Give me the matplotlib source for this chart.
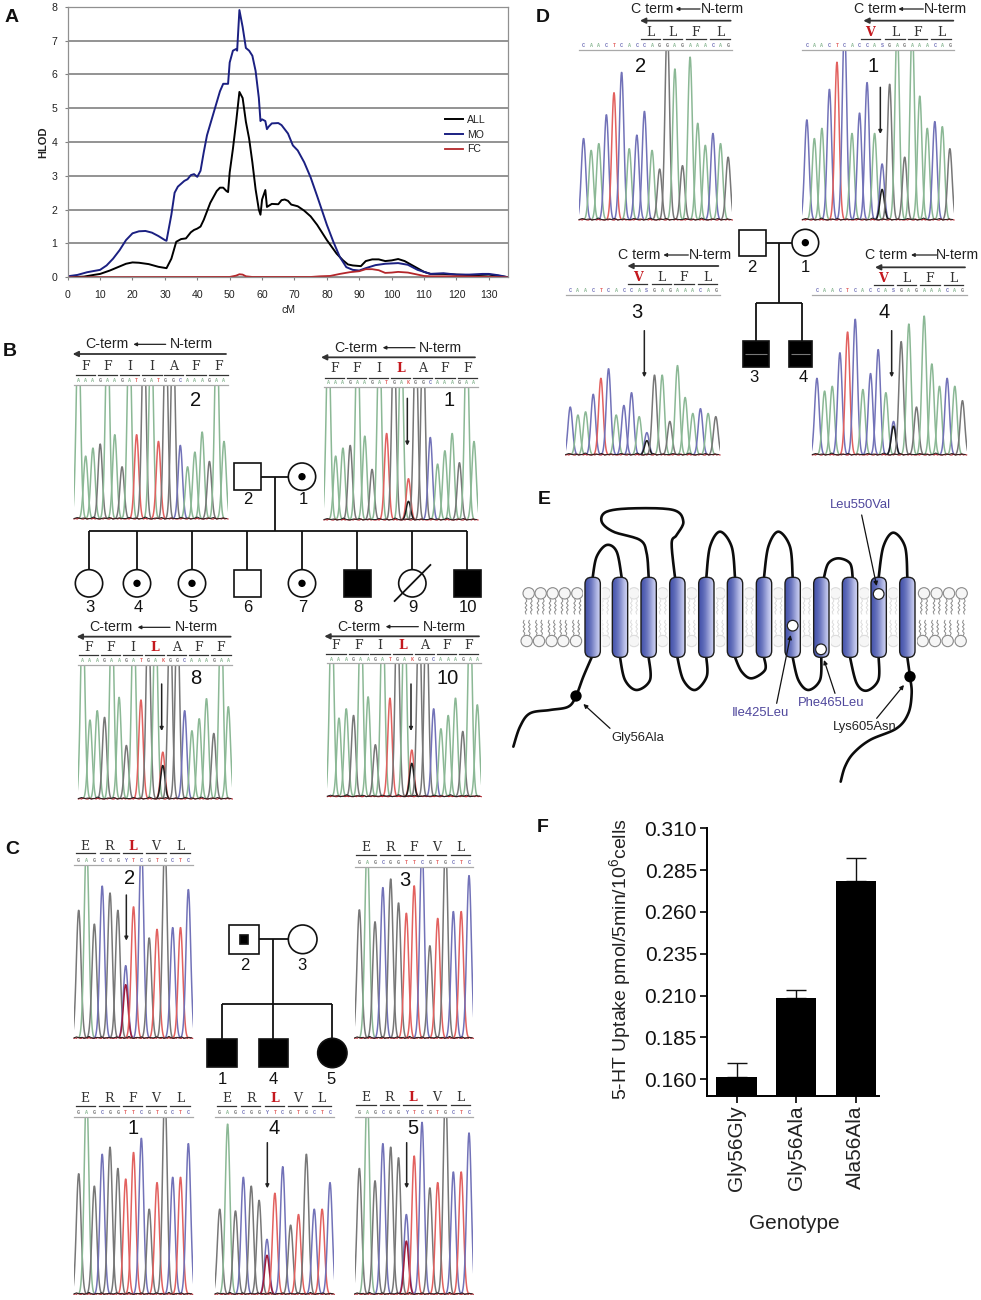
import numpy as np
import matplotlib
matplotlib.use("Agg")
import matplotlib.pyplot as plt
from matplotlib.patches import Circle, Rectangle, FancyBboxPatch

plt.rcParams['font.family'] = ['Liberation Sans', 'DejaVu Sans']
plt.rcParams['mathtext.fontset'] = 'custom'
plt.rcParams['mathtext.rm'] = 'Liberation Sans'
plt.rcParams['mathtext.default'] = 'regular'

W, H = 981, 1300

# panel A: linkage curves
mo_cm = [0, 3, 6, 10, 12, 14, 16, 18, 20, 22, 24, 26, 28, 30, 30.5, 32, 33, 34, 36, 37, 38, 39, 40, 41, 42, 43, 45, 47,
         48, 49.5, 50, 51, 52, 52.3, 53, 54, 55, 56, 57, 58, 59, 59.5, 60, 61, 61.5, 62, 63, 65, 66, 68, 69.5, 71, 73,
         75, 77, 80, 82, 84, 86, 88, 90, 92, 95, 98, 102, 105, 108, 112, 116, 120, 124, 128, 130, 133, 136]
mo_hlod = [0.03, 0.07, 0.15, 0.22, 0.35, 0.55, 0.8, 1.1, 1.3, 1.36, 1.37, 1.32, 1.22, 1.1, 1.08, 1.85, 2.5, 2.68, 2.85,
           2.9, 3.02, 3.05, 2.97, 3.15, 3.7, 4.2, 4.85, 5.5, 5.72, 5.72, 6.35, 6.7, 6.75, 6.7, 7.9, 7.4, 6.78, 6.7,
           6.55, 6.1, 5.3, 4.62, 4.67, 4.62, 4.38, 4.45, 4.55, 4.56, 4.5, 4.25, 3.9, 3.75, 3.4, 2.95, 2.4, 1.55, 1.05,
           0.6, 0.3, 0.22, 0.2, 0.27, 0.36, 0.4, 0.42, 0.37, 0.22, 0.1, 0.12, 0.08, 0.08, 0.1, 0.1, 0.06, 0.0]
all_cm = [0, 5, 8, 10, 13, 16, 18, 20, 22, 25, 28, 30.5, 32, 33.5, 35, 36.5, 38, 39, 40, 41, 42, 44, 46, 47, 48, 49,
          49.5, 50, 51, 52, 53, 54, 55, 56, 57, 58, 59, 59.5, 60, 61, 61.5, 63, 65, 66, 67, 68, 69, 71, 73, 75, 77,
          80, 83, 85, 86.5, 88, 90.5, 92, 94, 96, 98, 100, 102, 104, 107, 110, 112, 116, 120, 125, 130, 134, 136]
all_hlod = [0.0, 0.02, 0.07, 0.1, 0.2, 0.32, 0.4, 0.44, 0.43, 0.39, 0.31, 0.27, 0.55, 1.05, 1.13, 1.15, 1.33, 1.4, 1.44,
            1.5, 1.7, 2.2, 2.55, 2.65, 2.65, 2.55, 2.52, 3.1, 3.8, 4.6, 5.48, 5.3, 4.6, 4.1, 3.4, 2.6, 2.0, 1.85, 2.3,
            2.58, 2.08, 2.17, 2.16, 2.28, 2.3, 2.26, 2.15, 2.1, 1.97, 1.8, 1.55, 1.1, 0.7, 0.5, 0.38, 0.35, 0.33, 0.48,
            0.53, 0.53, 0.48, 0.5, 0.54, 0.48, 0.32, 0.16, 0.1, 0.1, 0.08, 0.06, 0.08, 0.03, 0.0]
fc_cm = [0, 50, 52, 53, 54, 55, 57, 75, 78, 81, 84, 87, 90, 92, 94, 96, 98, 100, 102, 105, 108, 110, 112, 120, 136]
fc_hlod = [0.0, 0.01, 0.05, 0.09, 0.08, 0.03, 0.01, 0.01, 0.03, 0.04, 0.1, 0.15, 0.18, 0.24, 0.24, 0.21, 0.13, 0.14,
           0.16, 0.14, 0.08, 0.04, 0.03, 0.03, 0.0]

# panel F: uptake bars
genotypes = ['Gly56Gly', 'Gly56Ala', 'Ala56Ala']
uptake = [0.1616, 0.2088, 0.2785]
uptake_err = [0.0080, 0.0046, 0.0140]
uptake_ticks = [0.160, 0.185, 0.210, 0.235, 0.260, 0.285, 0.310]

# chromatogram sequences and peak heights (top of window = 100)
seq_b = 'AAAGAAGATGATGGCAAAGAA'
peaks_b2 = [100, 47, 53, 56, 100, 63, 39, 100, 63, 100, 100, 58, 100, 100, 55, 39, 50, 65, 43, 100, 58]
peaks_b1 = [99, 48, 54, 56, 99, 63, 38, 98, 65, 98, 98, 31, 98, 98, 62, 42, 52, 65, 43, 99, 59]
peaks_b8 = [99, 59, 66, 61, 99, 76, 40, 99, 74, 99, 99, 35, 99, 99, 66, 51, 60, 75, 49, 99, 69]
peaks_b10 = [100, 59, 66, 61, 100, 75, 39, 100, 74, 100, 100, 35, 100, 100, 66, 51, 61, 74, 49, 100, 69]

seq_c = 'GAGCGGTTCGTGCTC'
seq_c_mut = 'GAGCGGCTCGTGCTC'
peaks_c2 = [74, 100, 66, 88, 84, 74, 42, 76, 100, 58, 63, 100, 64, 64, 86]
peaks_c3 = [75, 100, 68, 88, 93, 79, 73, 89, 98, 54, 70, 100, 74, 74, 95]
peaks_c1 = [68, 100, 61, 79, 83, 71, 65, 80, 88, 48, 63, 100, 66, 66, 85]
peaks_c4 = [48, 96, 47, 66, 61, 53, 31, 57, 72, 39, 45, 79, 48, 48, 63]
peaks_c5 = [71, 100, 64, 85, 83, 77, 45, 78, 97, 60, 63, 100, 69, 69, 91]

seq_d = 'CAACTCACCAGGAGAAACAG'
seq_d_mut = 'CAACTCACCACGAGAAACAG'
peaks_d2 = [48, 41, 45, 62, 75, 87, 42, 50, 64, 41, 30, 100, 89, 32, 96, 57, 44, 51, 45, 37]
peaks_d1 = [59, 48, 54, 77, 93, 100, 51, 63, 81, 51, 33, 80, 100, 37, 100, 73, 54, 58, 55, 42]
peaks_d3 = [30, 25, 27, 38, 48, 54, 25, 31, 39, 24, 14, 50, 50, 21, 56, 36, 26, 29, 26, 24]
peaks_d4 = [48, 40, 43, 64, 77, 85, 41, 51, 66, 39, 21, 71, 82, 30, 87, 57, 43, 48, 43, 34]

noise_dark = [1, 3, 1, 2, 0, 1, 4, 1, 0, 2, 1, 3, 0, 1, 2, 1]
noise_red = [0, 1, 0, 2, 1, 0, 0, 2, 0, 1, 1, 0, 2, 0, 1, 0]

base_color = {'A': '#8bb895', 'G': '#777777', 'T': '#e2615f', 'C': '#7272b8'}
base_dark = {'A': '#3f6a4c', 'G': '#1e1e1e', 'T': '#a01c3c', 'C': '#2c2c80'}
het_code = {'TG': 'K', 'CT': 'Y', 'CG': 'S'}
navy = '#1b2082'
label_blue = '#4f479c'

fig = plt.figure(figsize=(W / 100, H / 100), dpi=100)


def px_axes(x0, y0, x1, y1, **kw):
    return fig.add_axes([x0 / W, 1 - y1 / H, (x1 - x0) / W, (y1 - y0) / H], **kw)


over = px_axes(0, 0, W, H)
over.set_xlim(0, W)
over.set_ylim(H, 0)
over.axis('off')
over.set_zorder(10)
over.patch.set_visible(False)


def arrow(x0, y0, x1, y1, lw=1.1, head=7, color='#222222'):
    over.annotate('', xy=(x1, y1), xytext=(x0, y0),
                  arrowprops=dict(arrowstyle='-|>', lw=lw, color=color, mutation_scale=head,
                                  shrinkA=0, shrinkB=0))


def number(x, y, s, size=13):
    over.text(x, y, s, fontsize=size, ha='center', va='center', color='#111111')


def panel_letter(x, y, s):
    over.text(x, y + 2, s, fontsize=14, fontweight='bold', ha='center', va='center', color='#111111')


def trace(org, x0, x1, ceil, base, seq, heights, het=None, overshoot=1.15):
    """One chromatogram, box given in 3x zoom coordinates relative to org"""
    ox, oy = org
    ax = px_axes(ox + x0 / 3, oy + ceil / 3, ox + x1 / 3, oy + base / 3)
    ax.patch.set_visible(False)
    ax.axis('off')
    n = len(seq)
    ax.set_xlim(-0.6, n - 0.45)
    ax.set_ylim(0, 100)
    for i, (b, h) in enumerate(zip(seq, heights)):
        x = np.linspace(i - 1.3, i + 1.3, 60)
        top = h * overshoot if h >= 98 else h
        ax.plot(x, top * np.exp(-((x - i) / 0.42) ** 2), color=base_color[b], lw=1.1)
        code = b
        if het is not None and i == het[0]:
            ax.plot(x, het[2] * np.exp(-((x - i) / 0.42) ** 2), color=base_dark[het[1]], lw=1.1)
            code = het_code[b + het[1]]
        ax.annotate(code, (i, 100), xytext=(0, 1.2), textcoords='offset points', ha='center', va='bottom',
                    fontsize=3.6, family='Liberation Mono', fontweight='bold', color=base_color[b], annotation_clip=False)
    ax.plot([-0.6, n - 0.45], [100, 100], color='#a9a9a9', lw=0.9, clip_on=False)
    xs = np.linspace(-0.6, n - 0.45, 16 * 6)
    ax.plot(xs, np.tile(noise_red, 6) * 100 / (base - ceil) * 1.5, color='#b5202a', lw=0.8, clip_on=False)
    ax.plot(xs[::2], np.tile(noise_dark, 3) * 100 / (base - ceil) * 1.5, color='#222222', lw=0.7, clip_on=False)
    return ax


def letters(org, row, xs, y, rule_y, red=None, rule=58):
    ox, oy = org
    for i, (s, x) in enumerate(zip(row, xs)):
        c = '#c4181e' if i == red else '#333333'
        over.text(ox + x / 3, oy + y / 3, s, fontsize=9, family='DejaVu Serif', ha='center', va='center', color=c,
                  fontweight='bold' if i == red else 'normal')
        over.plot([ox + (x - rule / 2) / 3, ox + (x + rule / 2) / 3], [oy + rule_y / 3] * 2, color='#333333', lw=0.9)


def header(org, y, ct_x, a0, a1, nt_x, long_y, l0, l1, ct='C-term', size=10.2):
    ox, oy = org
    over.text(ox + ct_x / 3, oy + y / 3, ct, fontsize=size, ha='center', va='center', color='#222222')
    over.text(ox + nt_x / 3, oy + y / 3, 'N-term', fontsize=size, ha='center', va='center', color='#222222')
    arrow(ox + a0 / 3, oy + y / 3, ox + a1 / 3, oy + y / 3, lw=0.9, head=5)
    arrow(ox + l0 / 3, oy + long_y / 3, ox + l1 / 3, oy + long_y / 3, lw=1.3, head=8, color='#333333')


def down_arrow(org, x, y0, y1):
    ox, oy = org
    arrow(ox + x / 3, oy + y0 / 3, ox + x / 3, oy + y1 / 3, lw=1.1, head=5)


def square(org, x0, y0, x1, y1, filled=False):
    ox, oy = org
    over.add_patch(Rectangle((ox + x0 / 3, oy + y0 / 3), (x1 - x0) / 3, (y1 - y0) / 3, lw=1.2, ec='#111111',
                             fc='black' if filled else 'white', zorder=3))


def circle(org, x, y, r, filled=False, dot=False):
    ox, oy = org
    over.add_patch(Circle((ox + x / 3, oy + y / 3), r / 3, lw=1.2, ec='#111111',
                          fc='black' if filled else 'white', zorder=3))
    if dot:
        over.add_patch(Circle((ox + x / 3, oy + y / 3), 11 / 3, fc='black', ec='none', zorder=4))


def line(org, x0, y0, x1, y1, lw=1.3, color='#111111', zorder=2):
    ox, oy = org
    over.plot([ox + x0 / 3, ox + x1 / 3], [oy + y0 / 3, oy + y1 / 3], color=color, lw=lw, zorder=zorder,
              solid_capstyle='butt')


# ---- panel A
ax_a = px_axes(67.7, 6.7, 508.3, 277.3)
ax_a.plot(all_cm, all_hlod, color='black', lw=1.4, label='ALL')
ax_a.plot(mo_cm, mo_hlod, color=navy, lw=1.4, label='MO')
ax_a.plot(fc_cm, fc_hlod, color='#b3262a', lw=1.3, label='FC')
ax_a.set_xlim(0, 136)
ax_a.set_ylim(0, 8)
ax_a.set_xticks(range(0, 131, 10))
ax_a.set_yticks(range(0, 9))
ax_a.grid(axis='y', color='#808080', lw=1.2)
ax_a.set_axisbelow(True)
ax_a.tick_params(labelsize=7.6, length=2.5, width=0.8, color='#808080', labelcolor='#222222')
ax_a.tick_params(axis='x', pad=7)
ax_a.tick_params(axis='y', pad=5)
for s in ax_a.spines.values():
    s.set_color('#909090')
    s.set_linewidth(0.9)
ax_a.set_xlabel('cM', fontsize=7.6, color='#222222', labelpad=3)
ax_a.set_ylabel('HLOD', fontsize=8, fontweight='bold', color='#222222', labelpad=2)
ax_a.legend(loc='upper left', bbox_to_anchor=(0.856, 0.6), frameon=False, fontsize=7.6, handlelength=1.75,
            labelspacing=0.45, handletextpad=0.35, borderpad=0, borderaxespad=0, labelcolor='#222222')
panel_letter(12, 16, 'A')

# ---- panel B
org = (0, 335)
panel_letter(10, 350, 'B')
fam = 'FFIIAFF'
mut = 'FFILAFF'
trace(org, 222, 684, 150, 552, seq_b, peaks_b2, overshoot=1.45)
header(org, 28, 320, 497, 400, 575, 57, 678, 218)
letters(org, fam, [257, 323, 389, 456, 521, 588, 655], 95, 120)
number(196, 401, '2', 14.5)
trace(org, 972, 1434, 155, 555, seq_b, peaks_b1, het=(11, 'G', 14), overshoot=1.45)
header(org, 38, 1068, 1245, 1148, 1322, 67, 1425, 963)
letters(org, mut, [1003, 1070, 1135, 1202, 1268, 1335, 1402], 102, 129, red=3)
number(449, 401, '1', 14.5)
down_arrow(org, 1222, 190, 332)
trace(org, 235, 697, 990, 1392, seq_b, peaks_b8, het=(11, 'G', 25), overshoot=1.45)
header(org, 877, 334, 510, 413, 589, 905, 692, 230)
letters(org, mut, [265, 331, 397, 463, 529, 596, 663], 938, 960, red=3)
number(196, 679, '8', 14.5)
down_arrow(org, 485, 1047, 1188)
trace(org, 982, 1444, 985, 1385, seq_b, peaks_b10, het=(11, 'G', 25), overshoot=1.45)
header(org, 875, 1078, 1255, 1157, 1333, 904, 1437, 973)
letters(org, mut, [1008, 1075, 1140, 1207, 1273, 1340, 1406], 932, 958, red=3)
number(448, 679, '10', 14.5)
down_arrow(org, 1233, 1047, 1188)

line(org, 782, 425, 866, 425)
line(org, 824, 425, 824, 587)
line(org, 267, 587, 1402, 587)
square(org, 702, 385, 782, 465)
circle(org, 906, 425, 41, dot=True)
number(248, 500, '2', 12)
number(303, 500, '1', 12)
sib_x = [267, 411, 576, 741, 906, 1072, 1237, 1402]
sib_lab = ['3', '4', '5', '6', '7', '8', '9', '10']
for x, s in zip(sib_x, sib_lab):
    line(org, x, 587, x, 706)
    number((x + 3) / 3, 335 + 817 / 3, s, 12)
circle(org, 267, 745, 41)
circle(org, 411, 745, 41, dot=True)
circle(org, 576, 745, 41, dot=True)
square(org, 702, 706, 782, 786)
circle(org, 906, 745, 41, dot=True)
square(org, 1032, 706, 1112, 786, filled=True)
circle(org, 1237, 745, 41)
line(org, 1182, 800, 1293, 688, zorder=5)
square(org, 1363, 706, 1442, 786, filled=True)

# ---- panel C
org = (0, 830)
panel_letter(12, 848, 'C')
row_ok = 'ERFVL'
row_mut = 'ERLVL'
trace(org, 222, 578, 105, 625, seq_c_mut, peaks_c2, het=(6, 'T', 31))
letters(org, row_mut, [256, 328, 397, 468, 540], 48, 68, red=2)
number(130, 878, '2', 14.5)
down_arrow(org, 379, 195, 332)
trace(org, 1064, 1420, 110, 625, seq_c, peaks_c3)
letters(org, row_ok, [1098, 1170, 1240, 1310, 1382], 52, 74)
number(405, 880, '3', 14.5)
trace(org, 222, 578, 860, 1393, seq_c, peaks_c1)
letters(org, row_ok, [256, 327, 397, 468, 540], 807, 827)
number(133, 1129, '1', 14.5)
trace(org, 645, 1003, 860, 1393, seq_c_mut, peaks_c4, het=(6, 'T', 22))
letters(org, row_mut, [680, 752, 823, 893, 965], 807, 827, red=2)
number(274, 1129, '4', 14.5)
down_arrow(org, 802, 938, 1075)
trace(org, 1064, 1420, 860, 1393, seq_c_mut, peaks_c5, het=(6, 'T', 30))
letters(org, row_mut, [1098, 1168, 1238, 1310, 1382], 803, 825, red=2)
number(413, 1129, '5', 14.5)
down_arrow(org, 1220, 938, 1075)

line(org, 776, 328, 865, 328)
line(org, 820, 328, 820, 523)
line(org, 665, 523, 997, 523)
for x in (665, 820, 997):
    line(org, x, 523, x, 626)
square(org, 688, 285, 776, 371)
square(org, 719, 315, 745, 341, filled=True)
circle(org, 908, 328, 43)
square(org, 622, 626, 710, 712, filled=True)
square(org, 776, 626, 864, 712, filled=True)
circle(org, 997, 669, 44, filled=True)
number(245, 965, '2', 12)
number(302, 965, '3', 12)
number(222, 1079, '1', 12)
number(273, 1079, '4', 12)
number(331, 1079, '5', 12)

# ---- panel D
org = (530, 0)
panel_letter(543, 15, 'D')
trace(org, 147, 607, 150, 660, seq_d, peaks_d2)
header(org, 27, 366, 510, 437, 578, 62, 602, 330, ct='C term')
letters(org, 'LLFL', [361, 428, 498, 570], 98, 118)
number(641, 66, '2', 14.5)
trace(org, 817, 1272, 150, 660, seq_d_mut, peaks_d1, het=(10, 'G', 18))
header(org, 27, 1036, 1180, 1105, 1247, 62, 1270, 1000, ct='C term')
letters(org, 'VLFL', [1021, 1095, 1163, 1233], 98, 118, red=0)
number(873, 66, '1', 14.5)
down_arrow(org, 1051, 262, 402)

org = (550, 220)
trace(org, 47, 510, 225, 705, seq_d_mut, peaks_d3, het=(10, 'G', 9))
header(org, 105, 269, 415, 340, 482, 138, 505, 232, ct='C term')
letters(org, 'VLFL', [263, 335, 402, 472], 172, 192, red=0)
number(637, 312, '3', 14.5)
down_arrow(org, 283, 332, 472)
trace(org, 787, 1250, 225, 705, seq_d_mut, peaks_d4, het=(10, 'G', 18))
header(org, 105, 1010, 1160, 1083, 1223, 142, 1245, 975, ct='C term')
letters(org, 'VLFL', [1000, 1070, 1140, 1210], 176, 195, red=0)
number(884, 312, '4', 14.5)
down_arrow(org, 1025, 332, 472)

line(org, 647, 68, 727, 68)
line(org, 688, 68, 688, 250)
line(org, 617, 250, 757, 250)
line(org, 617, 250, 617, 362)
line(org, 757, 250, 757, 362)
square(org, 568, 30, 647, 108)
circle(org, 766, 68, 40, dot=True)
square(org, 578, 362, 656, 442, filled=True)
square(org, 718, 362, 786, 442, filled=True)
line(org, 584, 402, 650, 402, lw=0.8, color='#777777', zorder=5)
line(org, 724, 402, 780, 402, lw=0.8, color='#777777', zorder=5)
number(752, 268, '2', 12)
number(805, 268, '1', 12)
number(754, 378, '3', 12)
number(803, 378, '4', 12)

# ---- panel E
org = (500, 480)
panel_letter(544, 497, 'E')
helix_x = [278, 360, 446, 532, 619, 705, 792, 878, 964, 1050, 1136, 1222]
wave = [0, 2.5, -2.5, 2.5, -2.5, 2.5, -2.5, 0]


def zx(v):
    return org[0] + np.asarray(v, dtype=float) / 3


def zy(v):
    return org[1] + np.asarray(v, dtype=float) / 3


def lipid(x, y, tail_dir, faint=False):
    ec = '#dcdcdc' if faint else '#8a8a8a'
    over.add_patch(Circle((zx(x), zy(y)), 17 / 3, fc='#f6f6f6', ec=ec, lw=0.8, zorder=1))
    for dx in (-8, 8):
        ys = y + tail_dir * np.linspace(17, 62, len(wave))
        over.plot(zx(x + dx + np.array(wave)), zy(ys), color=ec, lw=0.7, zorder=1)


for x in [86, 122, 158, 194, 232, 1272, 1310, 1347, 1385]:
    lipid(x, 340, 1)
for x in [80, 117, 155, 190, 228, 1268, 1305, 1343, 1382]:
    lipid(x, 483, -1)
for x in [315, 402, 488, 575, 660, 748, 835, 920, 1007, 1093, 1180]:
    lipid(x, 340, 1, faint=True)
    lipid(x, 483, -1, faint=True)


def smooth(pts, n=14):
    # catmull-rom through the given points
    p = np.array([pts[0]] + list(pts) + [pts[-1]], dtype=float)
    out = []
    for i in range(1, len(p) - 2):
        t = np.linspace(0, 1, n)[:, None]
        out.append(0.5 * (2 * p[i] + (p[i + 1] - p[i - 1]) * t
                          + (2 * p[i - 1] - 5 * p[i] + 4 * p[i + 1] - p[i + 2]) * t ** 2
                          + (3 * p[i] - p[i - 1] - 3 * p[i + 1] + p[i + 2]) * t ** 3))
    return np.vstack(out)


loops = [
    [(40, 800), (60, 740), (90, 700), (150, 690), (205, 680), (228, 648), (250, 590), (275, 532)],
    [(278, 292), (290, 230), (320, 195), (350, 215), (365, 292)],
    [(360, 532), (375, 600), (410, 630), (450, 600), (446, 532)],
    [(446, 292), (440, 220), (420, 180), (340, 155), (305, 125), (320, 95), (400, 85), (520, 90), (550, 125),
     (530, 165), (515, 190), (525, 292)],
    [(532, 532), (550, 600), (585, 630), (620, 590), (619, 532)],
    [(619, 292), (630, 200), (660, 155), (695, 200), (705, 292)],
    [(705, 532), (725, 575), (755, 595), (795, 570), (792, 532)],
    [(792, 292), (805, 200), (835, 155), (870, 200), (878, 292)],
    [(878, 532), (895, 600), (925, 630), (960, 600), (964, 532)],
    [(972, 292), (985, 250), (1015, 235), (1050, 250), (1058, 292)],
    [(1050, 532), (1070, 610), (1100, 632), (1135, 600), (1136, 532)],
    [(1136, 292), (1150, 200), (1180, 158), (1215, 200), (1222, 292)],
    [(1222, 532), (1230, 590), (1235, 640), (1225, 700), (1190, 745), (1110, 780), (1060, 820), (1035, 860),
     (1022, 905)],
]
for pts in loops:
    c = smooth(pts)
    over.plot(zx(c[:, 0]), zy(c[:, 1]), color='#0c0c0c', lw=1.9, zorder=2, solid_capstyle='round')

gradient = np.array([[0.0, 0.12, 0.3, 0.55, 0.8, 1.0]])
blues = matplotlib.colors.LinearSegmentedColormap.from_list('helix', ['#4a58ae', '#ccd0f2'])
for x in helix_x:
    x0, x1, y0, y1 = zx(x - 23), zx(x + 23), zy(292), zy(532)
    halo = FancyBboxPatch((x0 + 3, y0 + 3), x1 - x0 - 6, y1 - y0 - 6, boxstyle='round,pad=3,rounding_size=6.5',
                          fc='white', ec='white', lw=3, zorder=1.5)
    over.add_patch(halo)
    im = over.imshow(gradient, extent=(x0, x1, y1, y0), cmap=blues, vmin=0, vmax=1, aspect='auto', zorder=3,
                     interpolation='bilinear')
    box = FancyBboxPatch((x0 + 3, y0 + 3), x1 - x0 - 6, y1 - y0 - 6, boxstyle='round,pad=3,rounding_size=6.5',
                         fc='none', ec='#1c1c1c', lw=1.0, zorder=4)
    over.add_patch(box)
    im.set_clip_path(box)
over.set_xlim(0, W)
over.set_ylim(H, 0)

for x, y in [(228, 648), (1230, 590)]:
    over.add_patch(Circle((zx(x), zy(y)), 17 / 3, fc='black', ec='none', zorder=6))
for x, y in [(878, 437), (963, 508), (1136, 342)]:
    over.add_patch(Circle((zx(x), zy(y)), 16 / 3, fc='white', ec='#222222', lw=0.9, zorder=6))

for s, x, y, c in [('Leu550Val', 1080, 75, label_blue), ('Ile425Leu', 782, 698, label_blue),
                   ('Phe465Leu', 992, 668, label_blue), ('Gly56Ala', 412, 775, '#222222'),
                   ('Lys605Asn', 1093, 740, '#222222')]:
    over.text(zx(x), zy(y), s, fontsize=9.4, color=c, ha='center', va='center', zorder=8)
for a, b in [((330, 745), (250, 672)), ((1130, 715), (1212, 615)), ((830, 670), (872, 465)),
             ((1005, 640), (972, 540)), ((1085, 105), (1130, 318))]:
    arrow(zx(a[0]), zy(a[1]), zx(b[0]), zy(b[1]), lw=0.9, head=6, color='#111111')

# ---- panel F
ax_f = px_axes(706.7, 828.3, 879, 1096)
ax_f.bar(range(3), uptake, width=0.68, bottom=0, color='black', zorder=2)
ax_f.errorbar(range(3), uptake, yerr=[[0, 0, 0], uptake_err], fmt='none', ecolor='#111111', elinewidth=1,
              capsize=7.2, capthick=1, zorder=1)
ax_f.set_xlim(-0.503, 2.39)
ax_f.set_ylim(0.150, 0.310)
ax_f.set_yticks(uptake_ticks)
ax_f.set_yticklabels(['%.3f' % v for v in uptake_ticks])
ax_f.set_xticks(range(3))
ax_f.set_xticklabels(genotypes, rotation=90)
ax_f.tick_params(axis='y', labelsize=15, length=5, width=1.2, pad=2, labelcolor='#111111')
ax_f.tick_params(axis='x', labelsize=15, length=5, width=1.2, pad=2, labelcolor='#222222')
ax_f.spines['top'].set_visible(False)
ax_f.spines['right'].set_visible(False)
ax_f.spines['left'].set_linewidth(1.4)
ax_f.spines['bottom'].set_linewidth(1.4)
ax_f.set_ylabel('5-HT Uptake pmol/5min/10$^{6}$cells', fontsize=14, color='#222222')
ax_f.yaxis.set_label_coords(-0.43, 0.51)
ax_f.set_xlabel('Genotype', fontsize=15, color='#222222')
ax_f.xaxis.set_label_coords(0.507, -0.44)
panel_letter(543, 825, 'F')

fig.savefig('out.png', dpi=100)
